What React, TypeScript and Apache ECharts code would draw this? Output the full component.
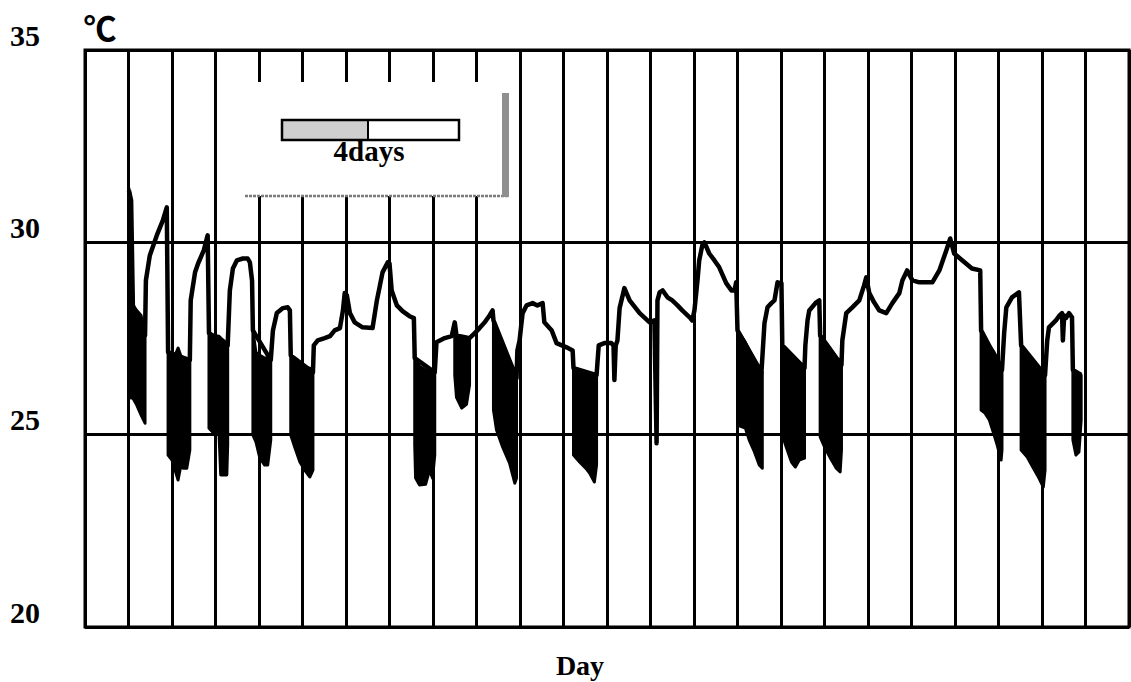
import React, { useEffect, useRef } from "react";
import * as echarts from "echarts";

// ---- axis ticks ----
const yTicks = [20, 25, 30, 35];
const dayCount = 24;

// ---- main temperature trace (day, °C) ----
const lineDays = [
  1.01, 1.06, 1.10, 1.38, 1.40, 1.49, 1.65, 1.79, 1.88, 1.91, 2.41, 2.43, 2.53, 2.60, 2.73, 2.80, 2.82, 2.85,
  3.28, 3.33, 3.40, 3.49, 3.63, 3.74, 3.79, 3.84, 3.86, 4.27, 4.32, 4.41, 4.55, 4.66, 4.71, 4.73,
  5.24, 5.26, 5.35, 5.51, 5.63, 5.74, 5.86, 5.93, 5.97, 6.02, 6.09, 6.20, 6.38, 6.61, 6.71, 6.78, 6.84, 6.96,
  7.00, 7.05, 7.17, 7.30, 7.46, 7.56, 7.58, 8.04, 8.08, 8.27, 8.43, 8.50, 8.54, 8.84, 8.96, 9.07, 9.19, 9.30,
  9.37, 9.39, 9.92, 9.94, 9.99, 10.06, 10.15, 10.29, 10.40, 10.52, 10.56, 10.73, 10.84, 11.07, 11.21, 11.23,
  11.76, 11.81, 11.94, 12.10, 12.15, 12.17, 12.20, 12.24, 12.29, 12.40, 12.52, 12.75, 12.98, 13.09, 13.14,
  13.16, 13.21, 13.28, 13.39, 13.50, 13.62, 13.73, 13.90, 13.96, 14.01, 14.08, 14.12, 14.19, 14.24, 14.35,
  14.47, 14.58, 14.74, 14.86, 14.93, 14.97, 15.00, 15.55, 15.62, 15.69, 15.78, 15.85, 15.92, 16.01, 16.03,
  16.54, 16.56, 16.61, 16.65, 16.81, 16.88, 16.90, 17.39, 17.41, 17.50, 17.64, 17.80, 17.91, 17.96, 18.03,
  18.14, 18.26, 18.42, 18.56, 18.72, 18.79, 18.90, 19.02, 19.18, 19.48, 19.64, 19.80, 19.89, 19.98, 20.17,
  20.39, 20.58, 20.60, 21.08, 21.13, 21.18, 21.31, 21.47, 21.52, 22.07, 22.12, 22.16, 22.32, 22.39, 22.46,
  22.48, 22.51, 22.55, 22.62, 22.69, 22.71, 22.90,
];
const lineTemps = [
  31.35, 31.09, 28.36, 27.58, 29.01, 29.66, 30.18, 30.57, 30.91, 27.14, 26.94, 28.49, 29.22, 29.45, 29.79, 30.10, 30.18, 27.64,
  27.32, 28.75, 29.32, 29.53, 29.58, 29.58, 29.48, 29.01, 27.71, 26.94, 27.71, 28.16, 28.29, 28.31, 28.23, 27.06,
  26.62, 27.32, 27.45, 27.51, 27.56, 27.71, 27.77, 28.23, 28.68, 28.62, 28.16, 27.92, 27.79, 27.77, 28.49, 28.88, 29.22, 29.48,
  29.45, 28.75, 28.36, 28.21, 28.08, 28.03, 26.99, 26.62, 27.40, 27.51, 27.56, 27.92, 27.58, 27.51, 27.64, 27.77, 27.92, 28.10,
  28.23, 27.97, 26.47, 27.19, 27.45, 28.16, 28.36, 28.42, 28.36, 28.42, 27.92, 27.71, 27.38, 27.27, 27.19, 26.73,
  26.55, 27.32, 27.38, 27.38, 27.32, 26.42, 27.32, 27.45, 28.29, 28.81, 28.49, 28.16, 27.92, 27.97, 24.78,
  28.49, 28.70, 28.75, 28.57, 28.49, 28.36, 28.23, 28.05, 27.97, 28.23, 29.01, 29.53, 29.92, 30.00, 29.71,
  29.53, 29.35, 28.94, 28.75, 28.75, 28.96, 27.71, 26.62, 27.90, 28.31, 28.42, 28.49, 28.96, 28.94, 27.32,
  26.73, 27.32, 27.97, 28.23, 28.44, 28.49, 27.58, 26.81, 27.45, 28.16, 28.31, 28.49, 28.88, 29.09, 28.68,
  28.44, 28.23, 28.16, 28.42, 28.68, 29.01, 29.27, 29.01, 28.96, 28.96, 29.27, 29.79, 30.10, 29.71, 29.53,
  29.32, 29.27, 27.71, 26.68, 27.64, 28.31, 28.57, 28.70, 27.32, 26.55, 27.45, 27.79, 27.97, 28.08, 28.16,
  27.45, 28.10, 28.03, 28.16, 28.05, 26.68, 26.55,
];

// ---- dense daily-fluctuation bands: day samples with upper / lower envelope (°C) ----
const bandDays = [
  [1.01, 1.06, 1.10, 1.19, 1.29, 1.38],
  [1.91, 2.00, 2.07, 2.14, 2.20, 2.25, 2.34, 2.41],
  [2.85, 2.96, 3.08, 3.12, 3.26, 3.28],
  [3.86, 3.93, 4.02, 4.13, 4.20, 4.27],
  [4.73, 4.82, 4.94, 5.05, 5.17, 5.24],
  [7.58, 7.60, 7.69, 7.83, 7.92, 7.99, 8.04],
  [8.50, 8.54, 8.66, 8.77, 8.84],
  [9.39, 9.46, 9.60, 9.76, 9.88, 9.92],
  [11.23, 11.37, 11.51, 11.60, 11.71, 11.76],
  [15.00, 15.18, 15.27, 15.39, 15.50, 15.57],
  [16.03, 16.12, 16.24, 16.33, 16.42, 16.54],
  [16.90, 17.00, 17.16, 17.27, 17.36, 17.39],
  [20.60, 20.69, 20.79, 20.90, 20.97, 21.06, 21.08],
  [21.52, 21.66, 21.80, 21.93, 22.03, 22.07],
  [22.71, 22.78, 22.85, 22.90],
];
const bandHigh = [
  [31.40, 31.09, 28.36, 28.23, 28.10, 27.58],
  [27.14, 27.14, 27.06, 27.25, 27.06, 26.99, 26.94, 26.94],
  [27.64, 27.58, 27.56, 27.51, 27.38, 27.32],
  [27.71, 27.14, 27.06, 26.99, 26.99, 26.94],
  [27.06, 26.88, 26.81, 26.75, 26.73, 26.62],
  [26.99, 26.94, 26.78, 26.68, 26.68, 26.62, 26.62],
  [27.58, 27.53, 27.51, 27.45, 27.51],
  [27.97, 27.77, 27.32, 26.94, 26.62, 26.47],
  [26.73, 26.68, 26.62, 26.60, 26.55, 26.55],
  [27.71, 27.40, 27.19, 26.94, 26.68, 26.62],
  [27.32, 27.14, 26.99, 26.88, 26.81, 26.73],
  [27.58, 27.32, 27.06, 26.88, 26.81, 26.81],
  [27.71, 27.51, 27.32, 27.14, 26.99, 26.81, 26.68],
  [27.32, 27.06, 26.88, 26.73, 26.62, 26.55],
  [26.68, 26.62, 26.57, 26.55],
];
const bandLow = [
  [26.16, 25.95, 25.95, 25.77, 25.51, 25.30],
  [24.47, 24.34, 24.08, 23.82, 24.18, 24.13, 24.13, 24.60],
  [25.17, 25.04, 25.04, 23.95, 23.95, 24.73],
  [24.99, 24.81, 24.39, 24.21, 24.21, 24.86],
  [24.99, 24.68, 24.29, 24.08, 23.90, 24.08],
  [24.73, 23.87, 23.69, 23.71, 24.08, 23.87, 24.47],
  [26.55, 25.97, 25.69, 25.79, 26.29],
  [25.64, 25.12, 24.68, 24.26, 23.74, 23.87],
  [24.47, 24.29, 24.13, 24.00, 23.77, 24.21],
  [25.25, 25.17, 24.86, 24.55, 24.21, 24.13],
  [24.99, 24.68, 24.29, 24.16, 24.34, 24.39],
  [24.94, 24.68, 24.34, 24.13, 24.03, 24.60],
  [25.64, 25.56, 25.38, 24.99, 24.73, 24.34, 24.60],
  [24.60, 24.42, 24.13, 23.87, 23.64, 24.08],
  [24.86, 24.47, 24.55, 25.38],
];

const scaleLabel = "4days";
const unitLabel = "℃";
const xName = "Day";

const SERIF = "'Liberation Serif', 'Times New Roman', serif";

export default function App() {
  const ref = useRef<HTMLDivElement>(null);

  useEffect(() => {
    if (!ref.current) return;
    const chart = echarts.init(ref.current, null, { renderer: "svg" });

    const lineData = lineDays.map((d, i) => [d, lineTemps[i]]);
    const bandData = bandDays.map((b, i) => [b[0], bandHigh[i][0]]);

    chart.setOption({
      animation: false,
      backgroundColor: "#fff",
      grid: {
        left: 85,
        right: 2,
        top: 50,
        bottom: 55,
        show: true,
        borderColor: "#000",
        borderWidth: 3,
        backgroundColor: "transparent",
      },
      xAxis: {
        type: "value",
        min: 0,
        max: dayCount,
        interval: 1,
        axisLine: { show: false },
        axisTick: { show: false },
        axisLabel: { show: false },
        splitLine: { show: true, lineStyle: { color: "#000", width: 3 } },
      },
      yAxis: {
        type: "value",
        min: yTicks[0],
        max: yTicks[yTicks.length - 1],
        interval: 5,
        axisLine: { show: false },
        axisTick: { show: false },
        axisLabel: {
          show: true,
          margin: 45,
          color: "#000",
          fontFamily: SERIF,
          fontWeight: "bold",
          fontSize: 30,
          verticalAlign: "bottom",
          lineHeight: 30,
          padding: [0, 0, 0, 0],
        },
        splitLine: { show: true, lineStyle: { color: "#000", width: 3 } },
      },
      series: [
        {
          type: "custom",
          z: 3,
          data: bandData,
          encode: { x: 0, y: 1 },
          renderItem: (params: any, api: any) => {
            const i = params.dataIndex;
            const t = bandDays[i];
            const hi = bandHigh[i];
            const lo = bandLow[i];
            const pts: number[][] = [];
            for (let k = 0; k < t.length; k++) pts.push(api.coord([t[k], hi[k]]));
            for (let k = t.length - 1; k >= 0; k--) pts.push(api.coord([t[k], lo[k]]));
            return {
              type: "polygon",
              shape: { points: pts },
              style: { fill: "#000", stroke: "#000", lineWidth: 3, lineJoin: "round" },
            };
          },
        },
        {
          type: "line",
          z: 4,
          data: lineData,
          symbol: "none",
          lineStyle: { color: "#000", width: 4.5, join: "round" },
        },
      ],
      graphic: [
        { type: "rect", z: 100, shape: { x: 245, y: 82, width: 263, height: 114 }, style: { fill: "#fff" } },
        {
          type: "line",
          z: 101,
          shape: { x1: 245, y1: 196, x2: 509, y2: 196 },
          style: { stroke: "#7a7a7a", lineWidth: 2.5, lineDash: [3, 1] },
        },
        { type: "rect", z: 101, shape: { x: 502, y: 93, width: 7, height: 104 }, style: { fill: "#8f8f8f" } },
        { type: "rect", z: 102, shape: { x: 282, y: 120, width: 86, height: 20 }, style: { fill: "#cfcfcf" } },
        {
          type: "rect",
          z: 103,
          shape: { x: 282, y: 120, width: 177, height: 20 },
          style: { fill: "none", stroke: "#000", lineWidth: 2.5 },
        },
        {
          type: "line",
          z: 103,
          shape: { x1: 368, y1: 120, x2: 368, y2: 140 },
          style: { stroke: "#000", lineWidth: 2 },
        },
        {
          type: "text",
          z: 104,
          x: 369,
          y: 151,
          style: {
            text: scaleLabel,
            fill: "#000",
            font: `bold 29px ${SERIF}`,
            textAlign: "center",
            textVerticalAlign: "middle",
          },
        },
        {
          type: "text",
          z: 104,
          x: 100,
          y: 27,
          style: {
            text: unitLabel,
            fill: "#000",
            font: `bold 33px 'Noto Sans CJK SC', sans-serif`,
            textAlign: "center",
            textVerticalAlign: "middle",
          },
        },
        {
          type: "text",
          z: 104,
          x: 580,
          y: 665,
          style: {
            text: xName,
            fill: "#000",
            font: `bold 28px ${SERIF}`,
            textAlign: "center",
            textVerticalAlign: "middle",
          },
        },
      ],
    });

    return () => chart.dispose();
  }, []);

  return (
    <div
      ref={ref}
      style={{ position: "fixed", left: 0, top: 0, width: "1131px", height: "682px", background: "#fff" }}
    />
  );
}
